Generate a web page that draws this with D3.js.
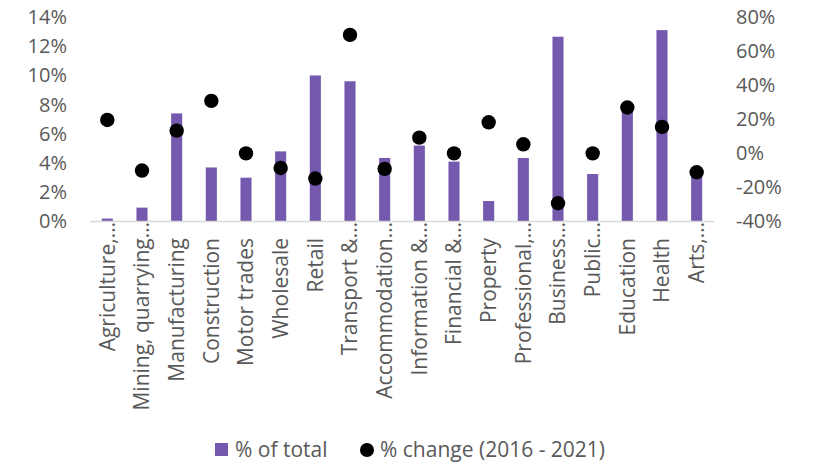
<!DOCTYPE html>
<html>
<head>
<meta charset="utf-8">
<script src="https://cdn.jsdelivr.net/npm/d3@7"></script>
<style>
  html, body { margin: 0; padding: 0; background: #fff; }
  svg { display: block; font-family: "Open Sans", sans-serif; }
</style>
</head>
<body>
<svg id="chart" width="818" height="465"></svg>
<script>
const categories = ["Agriculture,…", "Mining, quarrying…", "Manufacturing", "Construction", "Motor trades",
  "Wholesale", "Retail", "Transport &…", "Accommodation…", "Information &…", "Financial &…",
  "Property", "Professional,…", "Business…", "Public…", "Education", "Health", "Arts,…"];
const shareOfTotal = [0.2, 0.95, 7.4, 3.7, 3.0, 4.8, 10.0, 9.6, 4.35, 5.2, 4.1, 1.4, 4.35, 12.65, 3.25, 7.8, 13.1, 3.4];
const pctChange = [19.6, -10.1, 13.3, 30.8, 0, -8.6, -14.8, 69.5, -9.1, 9.2, 0, 18.2, 5.3, -29.3, 0, 26.9, 15.5, -11.1];
const leftTicks = [0, 2, 4, 6, 8, 10, 12, 14];
const rightTicks = [-40, -20, 0, 20, 40, 60, 80];
const legendLabels = ["% of total", "% change (2016 - 2021)"];

const svg = d3.select("#chart");
const plotLeft = 90, plotRight = 714, plotTop = 17, plotBottom = 221.5;
const barColor = "#7559AE";
const textColor = "#595959";

const x = d3.scaleBand().domain(categories).range([plotLeft, plotRight]).paddingInner(0.68).paddingOuter(0.34);
const yL = d3.scaleLinear().domain([0, 14]).range([plotBottom, plotTop]);
const yR = d3.scaleLinear().domain([-40, 80]).range([plotBottom, plotTop]);

// bars
svg.append("g").selectAll("rect").data(categories).join("rect")
  .attr("x", (d) => x(d))
  .attr("width", x.bandwidth())
  .attr("y", (d, i) => yL(shareOfTotal[i]))
  .attr("height", (d, i) => yL(0) - yL(shareOfTotal[i]))
  .attr("fill", barColor);

// axis line
svg.append("line")
  .attr("x1", plotLeft).attr("x2", plotRight)
  .attr("y1", yL(0)).attr("y2", yL(0))
  .attr("stroke", "#d9d9d9").attr("stroke-width", 1.3);

// dots
const xc = (d) => x(d) + x.bandwidth() / 2;
svg.append("g").selectAll("circle").data(categories).join("circle")
  .attr("cx", xc)
  .attr("cy", (d, i) => yR(pctChange[i]))
  .attr("r", 7.2)
  .attr("fill", "#000");

// left axis
const leftAxis = d3.axisLeft(yL).tickValues(leftTicks).tickFormat((d) => d + "%").tickSize(0).tickPadding(0);
const gL = svg.append("g").attr("transform", "translate(67,0)").call(leftAxis);
gL.select(".domain").remove();
gL.selectAll("text").attr("fill", textColor).attr("font-size", 20).attr("font-family", "Open Sans, sans-serif");

// right axis
const rightAxis = d3.axisRight(yR).tickValues(rightTicks).tickFormat((d) => d + "%").tickSize(0).tickPadding(0);
const gR = svg.append("g").attr("transform", "translate(736,0)").call(rightAxis);
gR.select(".domain").remove();
gR.selectAll("text").attr("fill", textColor).attr("font-size", 20).attr("font-family", "Open Sans, sans-serif");

// category labels (truncated labels let the ellipsis overflow toward the axis)
svg.append("g").selectAll("text").data(categories).join("text")
  .attr("transform", (d) => `translate(${xc(d)},${d.endsWith("…") ? 222 : 238}) rotate(-90)`)
  .attr("text-anchor", "end")
  .attr("dy", "0.35em")
  .attr("fill", textColor)
  .attr("font-size", 21)
  .text((d) => d);

// legend
const lg = svg.append("g");
lg.append("rect").attr("x", 215).attr("y", 443).attr("width", 13).attr("height", 13).attr("fill", barColor);
lg.append("text").attr("x", 235).attr("y", 457).attr("fill", textColor).attr("font-size", 21).text(legendLabels[0]);
lg.append("circle").attr("cx", 367).attr("cy", 450).attr("r", 7).attr("fill", "#000");
lg.append("text").attr("x", 380).attr("y", 457).attr("fill", textColor).attr("font-size", 21).text(legendLabels[1]);
</script>
</body>
</html>
